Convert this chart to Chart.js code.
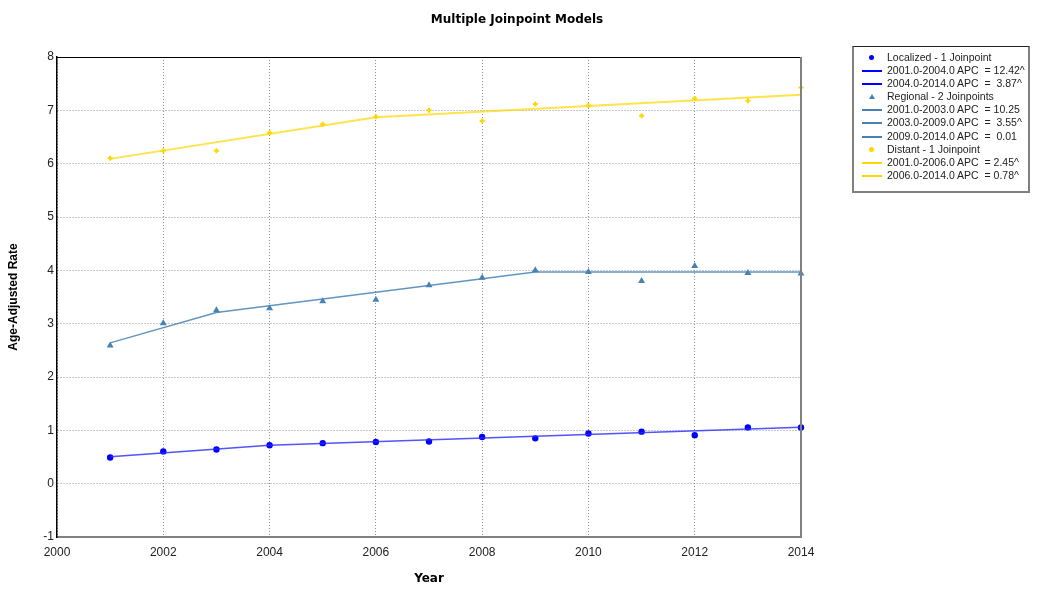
<!DOCTYPE html>
<html>
<head>
<meta charset="utf-8">
<script src="https://cdn.jsdelivr.net/npm/chart.js@4/dist/chart.umd.min.js"></script>
<style>
  body { margin: 0; background: #fff; }
  #wrap { position: relative; width: 1039px; height: 589px; }
  #title {
    position: absolute; left: 0; top: 12px; width: 1034px; text-align: center;
    font: bold 12px "DejaVu Sans", sans-serif; color: #000;
  }
  #legend {
    position: absolute; left: 852px; top: 46px; width: 174px; height: 140px;
    border: 2px solid #808080; border-top: 1px solid #222; padding-top: 4px;
    font: 10.5px "Liberation Sans", Arial, sans-serif; color: #222;
  }
  .row { position: relative; height: 13.1px; line-height: 13.1px; padding-left: 33px; white-space: pre; }
  .sw { position: absolute; left: 8px; top: 6px; width: 20px; height: 2px; }
  .dot { position: absolute; left: 15px; top: 4px; width: 5px; height: 5px; border-radius: 50%; }
  .tri { position: absolute; left: 15px; top: 4px; width: 0; height: 0;
    border-left: 3px solid transparent; border-right: 3px solid transparent; border-bottom: 5px solid #4682b4; }
</style>
</head>
<body>
<div id="wrap">
  <canvas id="chart" width="1039" height="589"></canvas>
  <div id="title">Multiple Joinpoint Models</div>
  <div id="legend"></div>
</div>
<script>
  // observed rates
  const years = [2001, 2002, 2003, 2004, 2005, 2006, 2007, 2008, 2009, 2010, 2011, 2012, 2013, 2014];
  const localized = [0.49, 0.605, 0.64, 0.72, 0.76, 0.78, 0.79, 0.875, 0.85, 0.94, 0.975, 0.91, 1.055, 1.055];
  const regional = [2.59, 3.01, 3.25, 3.29, 3.42, 3.45, 3.72, 3.86, 4.0, 3.97, 3.8, 4.08, 3.95, 3.94];
  const distant = [6.1, 6.24, 6.24, 6.58, 6.74, 6.88, 7.0, 6.8, 7.12, 7.09, 6.9, 7.22, 7.18, 7.43];

  // fitted joinpoint segments (values at the joinpoints)
  const localizedFitYears = [2001, 2004, 2014];
  const localizedFit = [0.505, 0.72, 1.06];
  const regionalFitYears = [2001, 2003, 2009, 2014];
  const regionalFit = [2.64, 3.21, 3.97, 3.97];
  const distantFitYears = [2001, 2006, 2014];
  const distantFit = [6.09, 6.87, 7.29];

  const xTicks = [2000, 2002, 2004, 2006, 2008, 2010, 2012, 2014];
  const yMin = -1, yMax = 8;

  const legendItems = [
    ["dot", "#0000ff", "Localized - 1 Joinpoint"],
    ["line", "#0000ff", "2001.0-2004.0 APC  = 12.42^"],
    ["line", "#0000ff", "2004.0-2014.0 APC  =  3.87^"],
    ["tri", "#4682b4", "Regional - 2 Joinpoints"],
    ["line", "#4682b4", "2001.0-2003.0 APC  = 10.25"],
    ["line", "#4682b4", "2003.0-2009.0 APC  =  3.55^"],
    ["line", "#4682b4", "2009.0-2014.0 APC  =  0.01"],
    ["dot", "#ffd700", "Distant - 1 Joinpoint"],
    ["line", "#ffd700", "2001.0-2006.0 APC  = 2.45^"],
    ["line", "#ffd700", "2006.0-2014.0 APC  = 0.78^"],
  ];

  const toPts = (xs, ys) => xs.map((x, i) => ({ x: x, y: ys[i] }));

  // legend
  const legendEl = document.getElementById("legend");
  legendItems.forEach(([kind, color, text]) => {
    const row = document.createElement("div");
    row.className = "row";
    const mark = document.createElement("span");
    if (kind === "line") {
      mark.className = "sw";
      mark.style.background = color;
    } else if (kind === "dot") {
      mark.className = "dot";
      mark.style.background = color;
    } else {
      mark.className = "tri";
    }
    row.appendChild(mark);
    row.appendChild(document.createTextNode(text));
    legendEl.appendChild(row);
  });

  // top and right frame lines
  const frame = {
    id: "frame",
    afterDraw(chart) {
      const { ctx, chartArea: a } = chart;
      ctx.save();
      ctx.strokeStyle = "#000";
      ctx.lineWidth = 1;
      ctx.beginPath();
      ctx.moveTo(a.left, a.top + 0.5);
      ctx.lineTo(a.right, a.top + 0.5);
      ctx.stroke();
      ctx.strokeStyle = "#808080";
      ctx.lineWidth = 2;
      ctx.beginPath();
      ctx.moveTo(a.right, a.top);
      ctx.lineTo(a.right, a.bottom);
      ctx.stroke();
      ctx.restore();
    },
  };

  const tickFont = { family: "'Liberation Sans', Arial, sans-serif", size: 12 };

  new Chart(document.getElementById("chart"), {
    type: "scatter",
    data: {
      datasets: [
        {
          data: toPts(localizedFitYears, localizedFit),
          showLine: true, borderColor: "rgba(40,40,255,0.8)", borderWidth: 1.5, pointRadius: 0,
        },
        {
          data: toPts(regionalFitYears, regionalFit),
          showLine: true, borderColor: "rgba(70,130,180,0.85)", borderWidth: 1.5, pointRadius: 0,
        },
        {
          data: toPts(distantFitYears, distantFit),
          showLine: true, borderColor: "rgba(255,215,0,0.7)", borderWidth: 2, pointRadius: 0,
        },
        {
          data: toPts(years, localized),
          pointStyle: "circle", pointRadius: 3.2, backgroundColor: "#0000ff", borderColor: "#0000ff", borderWidth: 0, clip: false,
        },
        {
          data: toPts(years, regional),
          pointStyle: "triangle", pointRadius: 4, backgroundColor: "#4682b4", borderColor: "#4682b4", borderWidth: 0, clip: false,
        },
        {
          data: toPts(years, distant),
          pointStyle: "cross", pointRadius: 2.5, backgroundColor: "#ffd700", borderColor: "#ffd700", borderWidth: 2, clip: false,
        },
      ],
    },
    options: {
      responsive: false,
      animation: false,
      events: [],
      layout: { padding: { top: 57, right: 238, left: 0, bottom: 0 } },
      plugins: {
        legend: { display: false },
        tooltip: { enabled: false },
      },
      scales: {
        x: {
          type: "linear",
          min: 2000,
          max: 2014,
          afterBuildTicks: (scale) => { scale.ticks = xTicks.map((v) => ({ value: v })); },
          afterFit: (scale) => { scale.height = 52; },
          ticks: { color: "#222", font: tickFont, padding: 8, maxRotation: 0, callback: (v) => String(v) },
          grid: { color: "#909090", lineWidth: 1, drawTicks: false },
          border: { display: true, color: "#808080", width: 2, dash: [1, 2] },
          title: {
            display: true, text: "Year", color: "#000",
            font: { family: "'DejaVu Sans', sans-serif", size: 12, weight: "bold" },
            padding: { top: 0, bottom: 3 },
          },
        },
        y: {
          min: yMin,
          max: yMax,
          afterFit: (scale) => { scale.width = 57; },
          ticks: { stepSize: 1, color: "#222", font: tickFont, padding: 3 },
          grid: { color: "#909090", lineWidth: 1, drawTicks: false },
          border: { display: true, color: "#000", width: 1.5, dash: [1, 2] },
          title: {
            display: true, text: "Age-Adjusted Rate", color: "#000",
            font: { family: "'Liberation Sans', Arial, sans-serif", size: 12, weight: "bold" },
            padding: { top: 6, bottom: 0 },
          },
        },
      },
    },
    plugins: [frame],
  });
</script>
</body>
</html>
